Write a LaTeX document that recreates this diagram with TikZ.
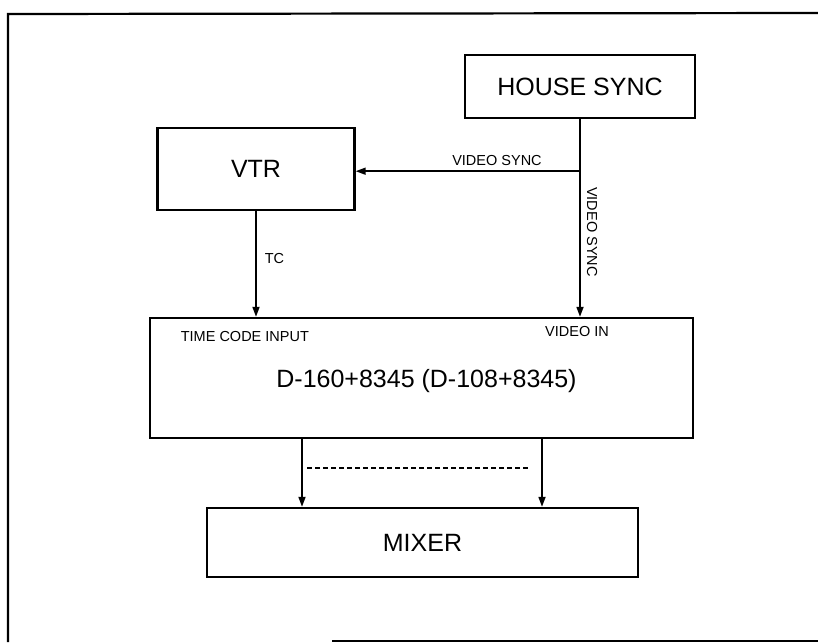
\documentclass[tikz,border=0pt]{standalone}
\usepackage{fontspec}
\setmainfont{Liberation Sans}
\usetikzlibrary{arrows.meta}

\begin{document}
\begin{tikzpicture}[x=1pt, y=-1pt, line width=1.7pt,
	box/.style={draw, line width=2.4pt, inner sep=0pt, font=\fontsize{25}{30}\selectfont},
	tag/.style={inner sep=0pt, font=\fontsize{14.5}{17}\selectfont},
	>={Triangle[length=10pt, width=7pt]}]
\useasboundingbox (0,0) rectangle (818,642);
% frame
\draw[line width=2.2pt] (8,642) -- (8,14) -- (818,13);
\draw[line width=2.2pt] (332,641) -- (818,641);
% units
\node[box, minimum width=230, minimum height=63] (house) at (580,86.5) {HOUSE SYNC};
\node[box, minimum width=197, minimum height=82] (vtr) at (256,169) {VTR};
\node[box, minimum width=543, minimum height=120, text depth=-8pt] (dbox) at (421.5,378) {\hspace{10pt}D-160+8345 (D-108+8345)};
\node[box, minimum width=431, minimum height=69] (mixer) at (422.5,542.5) {MIXER};
% signals
\path (house.south) ++(0,52) coordinate (tap);
\coordinate (outa) at (302,438);
\coordinate (outb) at (542,438);
\draw[->] (house.south) -- (house.south |- dbox.north);
\draw[->] (tap) -- (tap -| vtr.east);
\draw[->] (vtr.south) -- (vtr.south |- dbox.north);
\draw[->] (outa) -- (outa |- mixer.north);
\draw[->] (outb) -- (outb |- mixer.north);
\draw[line width=1.1pt, dash pattern=on 5pt off 3pt] (307,468) -- (528,468);
% labels
\node[tag] (synch) at (497,161) {VIDEO SYNC};
\node[tag, rotate=-90] (syncv) at (592,232) {VIDEO SYNC};
\node[tag, anchor=west] (tc) at (264,259) {TC};
\node[tag, anchor=west] (tcin) at (180,337) {TIME CODE INPUT};
\node[tag] (vidin) at (577,332) {VIDEO IN};
\end{tikzpicture}
\end{document}
